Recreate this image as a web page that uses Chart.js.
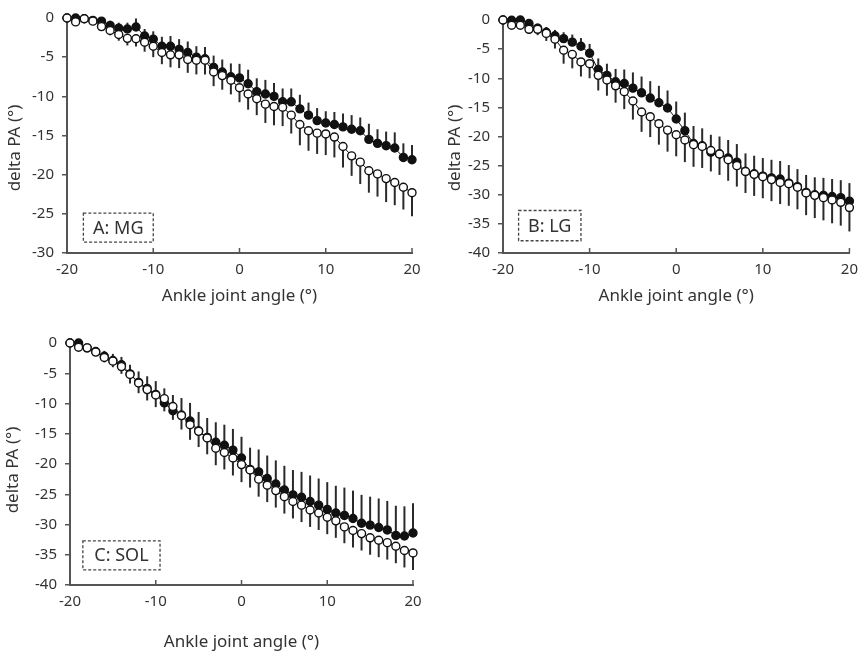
<!DOCTYPE html>
<html>
<head>
<meta charset="utf-8">
<title>delta PA vs ankle joint angle</title>
<script src="https://cdn.jsdelivr.net/npm/chart.js@4.4.1/dist/chart.umd.min.js"></script>
<style>
  html, body { margin: 0; padding: 0; background: #fff; }
  #wrap { position: relative; width: 866px; height: 652px; overflow: hidden; }
  canvas { position: absolute; }
  #panelA { left: 0; top: 0; }
  #panelB { left: 433px; top: 0; }
  #panelC { left: 0; top: 325px; }
</style>
</head>
<body>
<div id="wrap">
  <canvas id="panelA" width="430" height="310"></canvas>
  <canvas id="panelB" width="433" height="310"></canvas>
  <canvas id="panelC" width="430" height="327"></canvas>
</div>
<script>
// ankle angle (deg), one point per degree
const angles = [-20, -19, -18, -17, -16, -15, -14, -13, -12, -11, -10, -9, -8, -7, -6, -5, -4, -3, -2, -1,
  0, 1, 2, 3, 4, 5, 6, 7, 8, 9, 10, 11, 12, 13, 14, 15, 16, 17, 18, 19, 20];

const xTickValues = [-20, -10, 0, 10, 20];
const mgTickValues = [0, -5, -10, -15, -20, -25, -30];
const deepTickValues = [0, -5, -10, -15, -20, -25, -30, -35, -40];

// MG
const mgFilled = [0, 0, -0.1, -0.3, -0.4, -0.95, -1.3, -1.4, -1.15, -2.3, -2.7, -3.6, -3.6, -4.0, -4.4, -5.0, -5.2, -6.3, -6.9, -7.5,
  -7.65, -8.4, -9.4, -9.7, -10.0, -10.7, -10.7, -11.6, -12.4, -13.1, -13.4, -13.6, -13.9, -14.2, -14.4, -15.5, -16.0, -16.3, -16.6, -17.8, -18.1];
const mgFilledSd = [0, 0.2, 0.2, 0.3, 0.4, 0.6, 0.7, 0.8, 1.1, 0.9, 1.0, 1.2, 1.3, 1.3, 1.4, 1.4, 1.5, 1.5, 1.6, 1.7,
  1.8, 1.8, 1.7, 1.8, 1.7, 1.7, 1.7, 1.8, 1.6, 1.6, 1.5, 1.6, 1.7, 1.8, 1.7, 2.0, 1.8, 1.8, 2.0, 1.8, 1.9];
const mgOpen = [0, -0.5, -0.1, -0.4, -1.1, -1.6, -2.1, -2.6, -2.65, -3.1, -3.6, -4.4, -4.7, -4.7, -5.3, -5.4, -5.4, -6.9, -7.35, -7.95,
  -8.9, -9.7, -10.3, -11.0, -11.3, -11.4, -12.4, -13.6, -14.4, -14.7, -14.8, -15.2, -16.4, -17.6, -18.4, -19.5, -19.9, -20.5, -21.0, -21.6, -22.3];
const mgOpenSd = [0, 0.2, 0.3, 0.4, 0.5, 0.6, 0.8, 0.9, 1.0, 1.2, 1.4, 1.5, 1.6, 1.7, 1.7, 1.8, 1.8, 1.8, 1.8, 1.8,
  1.85, 2.0, 2.1, 2.4, 2.4, 2.4, 2.35, 2.65, 2.55, 2.65, 2.7, 2.6, 2.7, 2.55, 2.8, 2.8, 2.9, 3.0, 2.9, 2.85, 3.0];

// LG
const lgFilled = [0, -0.05, 0, -0.6, -1.4, -2.1, -2.7, -3.2, -3.8, -4.5, -5.7, -8.5, -9.5, -10.6, -10.9, -11.7, -12.5, -13.4, -14.2, -15.1,
  -17.0, -19.0, -21.2, -21.6, -22.7, -23.0, -23.7, -24.4, -26.0, -26.4, -26.8, -27.1, -27.3, -28.0, -28.6, -29.6, -30.0, -30.1, -30.3, -30.5, -31.1];
const lgFilledSd = [0, 0.3, 0.4, 0.6, 0.8, 0.9, 1.0, 1.1, 1.3, 1.4, 1.6, 1.9, 2.0, 2.2, 2.4, 2.7, 2.8, 2.9, 2.9, 3.0,
  3.0, 3.1, 3.0, 3.0, 3.0, 3.0, 3.1, 3.1, 3.1, 3.1, 3.1, 3.1, 3.1, 3.1, 3.0, 3.0, 3.0, 3.0, 3.0, 3.0, 3.1];
const lgOpen = [0, -0.9, -0.9, -1.6, -1.6, -2.3, -3.3, -5.2, -5.9, -7.2, -7.5, -9.5, -10.3, -11.3, -12.3, -13.9, -15.8, -16.6, -17.8, -18.9,
  -19.7, -20.6, -21.4, -21.7, -22.4, -23.0, -24.0, -25.0, -26.0, -26.5, -26.9, -27.4, -27.9, -28.1, -28.7, -29.7, -30.1, -30.5, -30.9, -31.3, -32.2];
const lgOpenSd = [0, 0.4, 0.6, 0.8, 1.0, 1.3, 1.6, 2.3, 2.4, 2.5, 2.5, 2.6, 2.7, 2.9, 3.0, 3.2, 3.4, 3.5, 3.6, 3.7,
  3.7, 3.8, 3.8, 3.7, 3.6, 3.6, 3.6, 3.6, 3.7, 3.7, 3.7, 3.7, 3.7, 3.8, 3.8, 3.8, 3.9, 3.9, 4.0, 4.0, 4.1];

// SOL
const solFilled = [0, 0, -0.8, -1.4, -2.2, -2.9, -3.6, -5.1, -6.5, -7.5, -8.5, -9.9, -11.2, -11.9, -12.9, -14.5, -15.6, -16.4, -16.9, -17.7,
  -19.0, -20.9, -21.3, -22.4, -23.3, -24.3, -25.1, -25.5, -26.2, -26.8, -27.5, -28.1, -28.5, -29.0, -29.8, -30.1, -30.5, -30.9, -31.8, -31.9, -31.4];
const solFilledSd = [0, 0.3, 0.5, 0.7, 0.9, 1.1, 1.3, 1.5, 1.8, 2.0, 2.2, 2.4, 2.6, 2.8, 3.0, 3.1, 3.2, 3.3, 3.4, 3.5,
  3.5, 3.6, 3.7, 3.8, 3.9, 4.0, 4.1, 4.2, 4.3, 4.4, 4.5, 4.5, 4.6, 4.6, 4.7, 4.7, 4.8, 4.8, 4.9, 4.9, 4.9];
const solOpen = [0, -0.7, -0.8, -1.5, -2.4, -3.0, -3.9, -5.2, -6.6, -7.7, -8.6, -9.2, -10.5, -12.0, -13.5, -14.6, -15.7, -17.4, -18.1, -19.0,
  -20.1, -21.0, -22.5, -23.5, -24.4, -25.4, -26.2, -26.8, -27.6, -28.1, -28.8, -29.4, -30.4, -31.0, -31.5, -32.2, -32.6, -33.0, -33.6, -34.3, -34.7];
const solOpenSd = [0, 0.3, 0.4, 0.6, 0.8, 1.0, 1.2, 1.5, 1.7, 1.8, 2.0, 2.1, 2.2, 2.3, 2.5, 2.6, 2.7, 2.8, 2.8, 2.9,
  2.9, 2.9, 2.9, 2.8, 2.8, 2.8, 2.8, 2.8, 2.8, 2.8, 2.8, 2.8, 2.7, 2.8, 2.8, 2.8, 2.8, 2.8, 2.8, 2.8, 2.8];

const FONT = '"Noto Sans", "DejaVu Sans", sans-serif';
const INK = '#333';
const AXIS = '#555';

// one-sided SD whiskers: filled series up, open series down
const errorBars = {
  id: 'errorBars',
  beforeDatasetsDraw(chart) {
    const { ctx, scales: { x, y } } = chart;
    ctx.save();
    ctx.strokeStyle = '#2a2a2a';
    ctx.lineWidth = 2;
    chart.data.datasets.forEach(ds => {
      ds.data.forEach((pt, i) => {
        const sd = ds.sd[i];
        if (!sd) return;
        const px = x.getPixelForValue(pt.x);
        ctx.beginPath();
        ctx.moveTo(px, y.getPixelForValue(pt.y));
        ctx.lineTo(px, y.getPixelForValue(pt.y + ds.sdDir * sd));
        ctx.stroke();
      });
    });
    ctx.restore();
  }
};

// short x ticks pointing into the plot
const innerTicks = {
  id: 'innerTicks',
  afterDraw(chart) {
    const { ctx, chartArea, scales: { x } } = chart;
    ctx.save();
    ctx.strokeStyle = AXIS;
    ctx.lineWidth = 1.5;
    x.ticks.forEach(t => {
      const px = x.getPixelForValue(t.value);
      ctx.beginPath();
      ctx.moveTo(px, chartArea.bottom);
      ctx.lineTo(px, chartArea.bottom - 5);
      ctx.stroke();
    });
    ctx.restore();
  }
};

// rotated y title, placed per panel
const yTitle = {
  id: 'yTitle',
  afterDraw(chart, args, opts) {
    const { ctx } = chart;
    ctx.save();
    ctx.translate(opts.x, opts.y);
    ctx.rotate(-Math.PI / 2);
    ctx.fillStyle = INK;
    ctx.font = '17px ' + FONT;
    ctx.textAlign = 'center';
    ctx.textBaseline = 'middle';
    ctx.fillText('delta PA (°)', 0, 0);
    ctx.restore();
  }
};

// dashed label box in the lower left corner
const panelTag = {
  id: 'panelTag',
  afterDraw(chart, args, opts) {
    const { ctx, scales: { x, y } } = chart;
    const x0 = x.getPixelForValue(opts.box[0]), x1 = x.getPixelForValue(opts.box[1]);
    const y0 = y.getPixelForValue(opts.box[2]), y1 = y.getPixelForValue(opts.box[3]);
    ctx.save();
    ctx.strokeStyle = '#444';
    ctx.lineWidth = 1.3;
    ctx.setLineDash([3, 2]);
    ctx.strokeRect(x0, y0, x1 - x0, y1 - y0);
    ctx.setLineDash([]);
    ctx.fillStyle = INK;
    ctx.font = '18px ' + FONT;
    ctx.textAlign = 'center';
    ctx.textBaseline = 'middle';
    ctx.fillText(opts.text, (x0 + x1) / 2, (y0 + y1) / 2 + 1);
    ctx.restore();
  }
};

function toPoints(values) {
  return values.map((v, i) => ({ x: angles[i], y: v }));
}

function seriesStyle(fill) {
  return {
    borderColor: '#111',
    borderWidth: 1,
    pointRadius: 4,
    pointBackgroundColor: fill,
    pointBorderColor: '#111',
    pointBorderWidth: 1.4,
    tension: 0,
    clip: false
  };
}

function buildPanel(id, p) {
  const ctx = document.getElementById(id).getContext('2d');
  return new Chart(ctx, {
    type: 'line',
    data: {
      datasets: [
        Object.assign({ label: 'open', data: toPoints(p.open), sd: p.openSd, sdDir: -1 }, seriesStyle('#fff')),
        Object.assign({ label: 'filled', data: toPoints(p.filled), sd: p.filledSd, sdDir: 1 }, seriesStyle('#111'))
      ]
    },
    options: {
      responsive: false,
      animation: false,
      layout: { padding: p.padding },
      plugins: {
        legend: { display: false },
        tooltip: { enabled: false },
        panelTag: { text: p.tag, box: p.box },
        yTitle: p.yTitle
      },
      scales: {
        x: {
          type: 'linear',
          min: -20,
          max: 20,
          afterBuildTicks: s => { s.ticks = xTickValues.map(v => ({ value: v })); },
          afterFit: s => { s.height = p.xAxisH; },
          grid: { display: false, drawTicks: false },
          border: { color: AXIS, width: 2 },
          ticks: { padding: 8, color: INK, font: { size: 15, family: FONT } },
          title: {
            display: true, text: 'Ankle joint angle (°)', color: INK,
            padding: { top: 4, bottom: 0 }, font: { size: 17, family: FONT }
          }
        },
        y: {
          min: p.yTicks[p.yTicks.length - 1],
          max: 0,
          afterBuildTicks: s => { s.ticks = p.yTicks.map(v => ({ value: v })); },
          afterFit: s => { s.width = p.yAxisW; },
          grid: { drawOnChartArea: false, drawTicks: true, tickLength: 5, color: AXIS, lineWidth: 1.5 },
          border: { color: AXIS, width: 2 },
          ticks: { padding: 8, color: INK, font: { size: 15, family: FONT } }
        }
      }
    },
    plugins: [errorBars, innerTicks, panelTag, yTitle]
  });
}

buildPanel('panelA', {
  filled: mgFilled, filledSd: mgFilledSd, open: mgOpen, openSd: mgOpenSd,
  yTicks: mgTickValues, tag: 'A: MG', box: [-18.1, -10, -24.9, -28.6],
  padding: { left: 3, top: 18, right: 18, bottom: 4 }, yAxisW: 64, xAxisH: 53,
  yTitle: { x: 15, y: 148 }
});

buildPanel('panelB', {
  filled: lgFilled, filledSd: lgFilledSd, open: lgOpen, openSd: lgOpenSd,
  yTicks: deepTickValues, tag: 'B: LG', box: [-18.2, -11, -32.7, -37.9],
  padding: { left: 11, top: 20, right: 11, bottom: 4 }, yAxisW: 59, xAxisH: 53,
  yTitle: { x: 22, y: 148 }
});

buildPanel('panelC', {
  filled: solFilled, filledSd: solFilledSd, open: solOpen, openSd: solOpenSd,
  yTicks: deepTickValues, tag: 'C: SOL', box: [-18.5, -9.5, -32.7, -37.5],
  padding: { left: 3, top: 18, right: 17, bottom: 0 }, yAxisW: 67, xAxisH: 67,
  yTitle: { x: 13, y: 145 }
});
</script>
</body>
</html>
